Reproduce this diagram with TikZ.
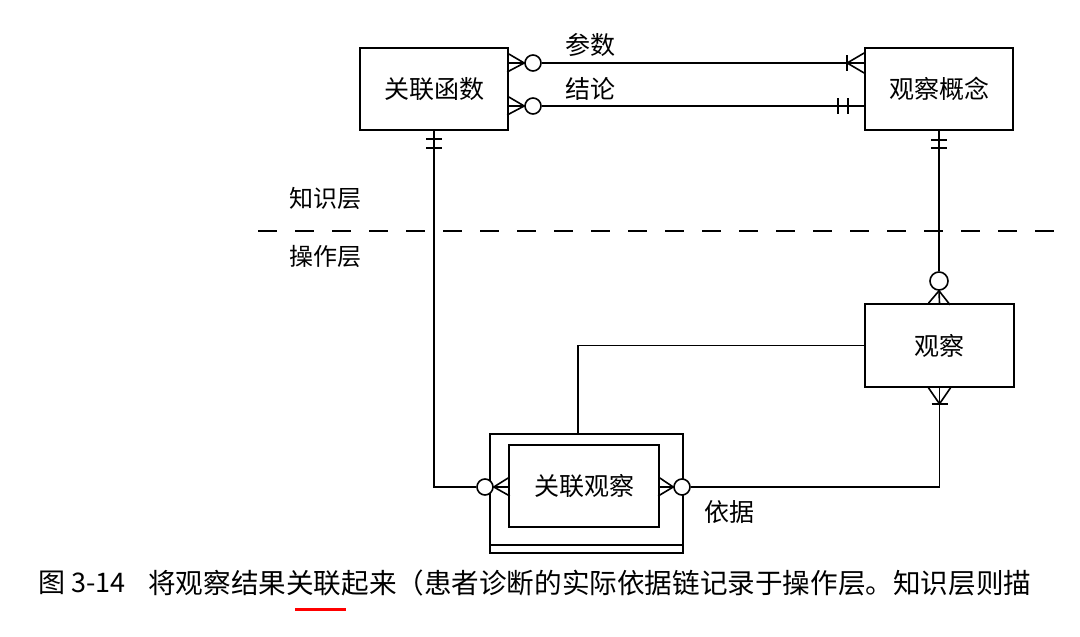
\documentclass[tikz,border=0pt]{standalone}
\usepackage{fontspec}
\newfontfamily\cjk{Noto Sans CJK SC}
\usetikzlibrary{calc}
\begin{document}
\begin{tikzpicture}[x=1pt,y=-1pt,
  ent/.style={draw,line width=1.7pt,inner sep=0pt,font=\cjk\fontsize{25}{25}\selectfont},
  ln/.style={line width=1.6pt},
  lbl/.style={inner sep=0pt,font=\cjk\fontsize{25}{25}\selectfont},
  layer/.style={inner sep=0pt,font=\cjk\fontsize{24}{24}\selectfont},
  ring/.style={draw,line width=1.6pt,fill=white,circle,inner sep=0pt,minimum size=16pt}]
\useasboundingbox (0,0) rectangle (1080,637);
\fill[white] (0,0) rectangle (1080,637);
% entities
\node[ent,minimum width=148pt,minimum height=82pt] (fn) at (434,89) {关联函数};
\node[ent,minimum width=148pt,minimum height=82pt] (concept) at (939,89) {观察概念};
\node[ent,minimum width=149pt,minimum height=83pt] (obs) at (939.5,345.5) {观察};
\node[draw,line width=1.7pt,minimum width=193pt,minimum height=119pt,inner sep=0pt] (frame) at (586.5,493.5) {};
\draw[line width=1.6pt] (frame.south west) ++(0,-9) -- ++(193,0);
\node[ent,minimum width=150pt,minimum height=82pt] (assoc) at (584,486) {关联观察};
% rings
\node[ring] (r1) at (533,63) {};
\node[ring] (r2) at (533,106) {};
\node[ring] (r3) at (485,487) {};
\node[ring] (r4) at (682,487) {};
\node[ring,minimum size=18pt] (r5) at (939,281) {};
% connector 参数
\draw[ln] (r1.east) -- (r1.east -| concept.west);
\draw[ln] (fn.east |- r1) ++(0,-9) -- (r1.west) -- ++(-17,9);
\draw[ln] (fn.east |- r1) -- (r1.west);
\draw[ln] (concept.west |- r1) ++(0,-10) -- ++(-17,10) -- ++(17,10);
\draw[ln] (concept.west |- r1) ++(-17,-8) -- ++(0,16);
\node[lbl] (pa) at (590,45) {参数};
% connector 结论
\draw[ln] (r2.east) -- (r2.east -| concept.west);
\draw[ln] (fn.east |- r2) ++(0,-9) -- (r2.west) -- ++(-17,9);
\draw[ln] (fn.east |- r2) -- (r2.west);
\draw[ln] (concept.west |- r2) ++(-16,-8) -- ++(0,16);
\draw[ln] (concept.west |- r2) ++(-26,-8) -- ++(0,16);
\node[lbl] (co) at (590,89) {结论};
% fn to assoc
\draw[ln] (fn.south) -- (fn.south |- r3) -- (r3.west);
\draw[ln] (fn.south) ++(-8,8) -- ++(16,0);
\draw[ln] (fn.south) ++(-8,17) -- ++(16,0);
\draw[ln] (assoc.west |- r3) ++(0,-9) -- (r3.east) -- ++(16,9);
\draw[ln] (assoc.west |- r3) -- (r3.east);
% concept to obs
\draw[ln] (concept.south) -- (r5.north);
\draw[ln] (concept.south) ++(-8,9) -- ++(16,0);
\draw[ln] (concept.south) ++(-8,17) -- ++(16,0);
\draw[ln] (obs.north) ++(-11,0) -- (r5.south) -- ++(11,14);
\draw[ln] (obs.north) -- (r5.south);
% obs to assoc (依据)
\coordinate (corner) at (obs.south |- r4);
\draw[ln] (obs.south) -- (corner) -- (r4.east);
\draw[ln] (obs.south) ++(-11,0) -- ++(11,16) -- ++(11,-16);
\draw[ln] (obs.south) ++(-8,16) -- ++(16,0);
\draw[ln] (assoc.east |- r4) ++(0,-9) -- (r4.west) -- ++(-15,9);
\draw[ln] (assoc.east |- r4) -- (r4.west);
\node[lbl] (yj) at (729,512) {依据};
% obs to frame
\coordinate (bend) at (578,0 |- obs.west);
\draw[ln] (obs.west) -- (bend) -- (bend |- frame.north);
% layers
\node[layer] (kl) at (325,198) {知识层};
\node[layer] (ol) at (325,256) {操作层};
\coordinate (dl) at (258,231);
\coordinate (dr) at (1055,231);
\draw[line width=1.7pt,dash pattern=on 19pt off 18pt] (dl) -- (dr);
% caption
\node[inner sep=0pt,anchor=west,font=\cjk\fontsize{27}{27}\selectfont] (capn) at (38,583) {图 3-14};
\node[inner sep=0pt,anchor=west,font=\cjk\fontsize{27.6}{27.6}\selectfont] (cap) at (148,583) {将观察结果关联起来（患者诊断的实际依据链记录于操作层。知识层则描};
\draw[red,line width=3pt] (295,609) -- (346,609);
\end{tikzpicture}
\end{document}
